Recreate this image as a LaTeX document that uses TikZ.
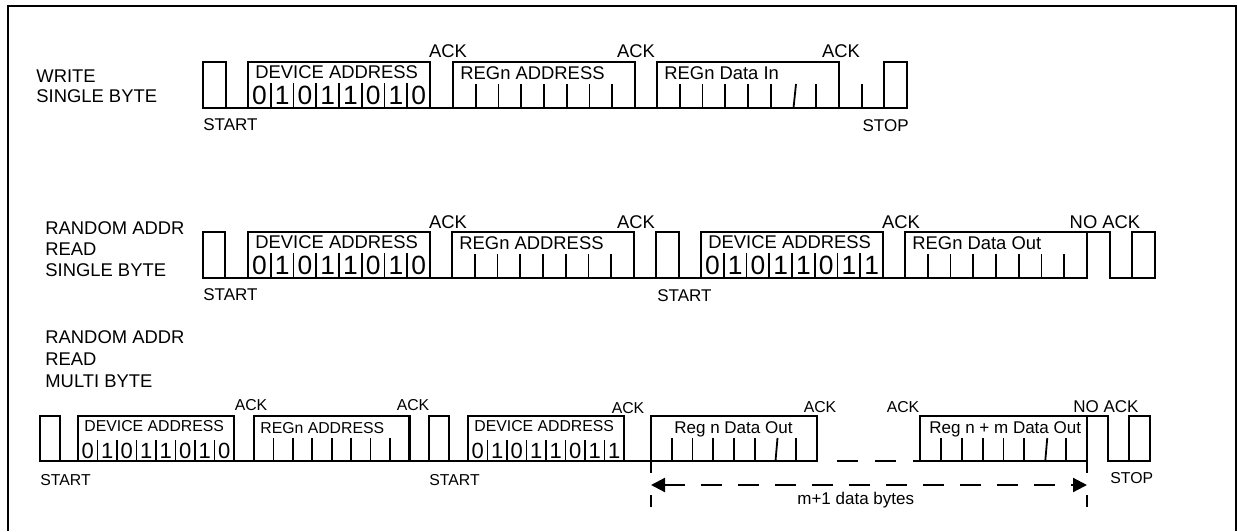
\documentclass[tikz,border=0pt]{standalone}
\usepackage{fontspec}
\setmainfont{Liberation Sans}
\usetikzlibrary{arrows.meta}

\tikzset{
  sigline/.style={line width=1.3pt},
  bitline/.style={line width=0.9pt},
  lbl/.style={inner sep=0pt, anchor=base west, font=\fontsize{9.2}{11}\selectfont},
  lblm/.style={lbl, font=\fontsize{8.5}{10}\selectfont},
  lbls/.style={lbl, font=\fontsize{7.9}{9}\selectfont},
  bitbig/.style={inner sep=0pt, anchor=base, font=\fontsize{13.2}{15}\selectfont},
  bitsmall/.style={bitbig, font=\fontsize{11}{13}\selectfont},
}

\begin{document}
\begin{tikzpicture}[x=0.5pt,y=-0.5pt]
	\useasboundingbox (0,0) rectangle (1237,531);
	\draw[line width=1.35pt] (8,531) -- (8,6) -- (1236,6) -- (1236,531);

	% write single byte
	\node[lbl] (wr1) at (36,82) {WRITE};
	\node[lbl] (wr2) at (36,102) {SINGLE BYTE};
	\draw[sigline] (203,108) -- (907,108);
	\draw[sigline] (203,62) rectangle (226,108);
	\draw[sigline] (884,62) rectangle (907,108);
	\draw[bitline] (862,84) -- (862,108);
	\node[lblm] (st1) at (203,130) {START};
	\node[lblm, anchor=base east] (sp1) at (909,131) {STOP};
	\foreach \x [count=\i] in {448,636,841}
		\node[lbl, anchor=base] (ack1\i) at (\x,57) {ACK};

	% random addr read single byte
	\node[lbl] (rs1) at (45,234) {RANDOM ADDR};
	\node[lbl] (rs2) at (45,255) {READ};
	\node[lbl] (rs3) at (45,276) {SINGLE BYTE};
	\draw[sigline] (203,278) -- (1087,278);
	\draw[sigline] (203,232) rectangle (225,278);
	\draw[sigline] (656,232) rectangle (679,278);
	\draw[sigline] (1087,232) -- (1110,232) -- (1110,278) -- (1155,278);
	\draw[sigline] (1132,232) rectangle (1155,278);
	\node[lblm] (st2) at (203,300) {START};
	\node[lblm] (st3) at (657,301) {START};
	\foreach \x [count=\i] in {448,636,901}
		\node[lbl, anchor=base] (ack2\i) at (\x,228) {ACK};
	\node[lbl, anchor=base] (nack2) at (1105,228) {NO ACK};

	% device address, rows 1 and 2
	\foreach \x/\y/\bits [count=\k] in {248/62/{0,1,0,1,1,0,1,0}, 248/232/{0,1,0,1,1,0,1,0}, 701/232/{0,1,0,1,1,0,1,1}} {
		\draw[sigline] (\x,\y) rectangle (\x+182,\y+46);
		\node[lbl] (dev\k) at (\x+7,\y+16) {DEVICE ADDRESS};
		\foreach \i in {1,...,7}
			\draw[bitline] (\x+22.75*\i,\y+21) -- (\x+22.75*\i,\y+46);
		\foreach \b [count=\i] in \bits
			\node[bitbig] (dev\k-\i) at (\x+22.75*\i-11.4,\y+42) {\b};
	}

	% register bytes, rows 1 and 2
	\foreach \x/\y/\txt/\sl [count=\k] in {453/62/REGn ADDRESS/0, 657/62/REGn Data In/2.5, 452/232/REGn ADDRESS/0, 905/232/REGn Data Out/0} {
		\draw[sigline] (\x,\y) rectangle (\x+182,\y+46);
		\node[lbl] (reg\k) at (\x+7,\y+17) {\txt};
		\foreach \i in {1,...,7}
			\draw[bitline] ({\x+22.75*\i+\sl*(\i==6)},\y+22) -- (\x+22.75*\i,\y+46);
	}

	% random addr read multi byte
	\node[lbl] (rm1) at (45,343) {RANDOM ADDR};
	\node[lbl] (rm2) at (45,365) {READ};
	\node[lbl] (rm3) at (45,387) {MULTI BYTE};
	\draw[sigline] (40,461) -- (817,461);
	\draw[sigline] (920,461) -- (1087,461);
	\draw[sigline, dash pattern=on 10.5pt off 8.5pt] (837,461) -- (920,461);
	\draw[sigline] (40,416) rectangle (60,461);
	\draw[sigline] (429,416) rectangle (449,461);
	\draw[sigline] (1087,416) -- (1108,416) -- (1108,461) -- (1150,461);
	\draw[sigline] (1129,416) rectangle (1150,461);
	\node[lbls] (st4) at (40,485) {START};
	\node[lbls] (st5) at (429,485) {START};
	\node[lbls] (sp2) at (1110,483) {STOP};
	\foreach \x/\y [count=\i] in {251/410,413/410,628/413,820/412,903/412}
		\node[lbls, anchor=base] (ack3\i) at (\x,\y) {ACK};
	\node[lblm, anchor=base] (nack3) at (1106,412) {NO ACK};

	\foreach \x/\bits [count=\k] in {78/{0,1,0,1,1,0,1,0}, 468/{0,1,0,1,1,0,1,1}} {
		\draw[sigline] (\x,416) rectangle (\x+156,461);
		\node[lbls] (mdev\k) at (\x+6,431) {DEVICE ADDRESS};
		\foreach \i in {1,...,7}
			\draw[bitline] (\x+19.5*\i,440) -- (\x+19.5*\i,461);
		\foreach \b [count=\i] in \bits
			\node[bitsmall] (mdev\k-\i) at (\x+19.5*\i-9.75,458) {\b};
	}

	\foreach \x/\w/\dx/\txt/\st/\sl [count=\k] in {254/19.4/6/REGn ADDRESS/lbls/0, 651/20.75/23/Reg n Data Out/lblm/2, 920/20.875/9/Reg n + m Data Out/lblm/2} {
		\draw[sigline] (\x,416) rectangle (\x+8*\w,461);
		\node[\st] (mreg\k) at (\x+\dx,433) {\txt};
		\foreach \i in {1,...,7}
			\draw[bitline] ({\x+\w*\i+\sl*(\i==6)},438) -- (\x+\w*\i,461);
	}

	% m+1 data bytes span
	\coordinate (ml) at (651,485);
	\coordinate (mr) at (1087,485);
	\draw[bitline, dash pattern=on 6pt off 11pt] (651,461) -- (651,508);
	\draw[bitline, dash pattern=on 6pt off 11pt] (1087,461) -- (1087,508);
	\draw[line width=1.1pt, dash pattern=on 10.5pt off 8pt, {Triangle[length=7pt,width=7pt]}-{Triangle[length=7pt,width=7pt]}] (ml) -- (mr);
	\node[lblm] (nbytes) at (797,504) {m+1 data bytes};
\end{tikzpicture}
\end{document}
